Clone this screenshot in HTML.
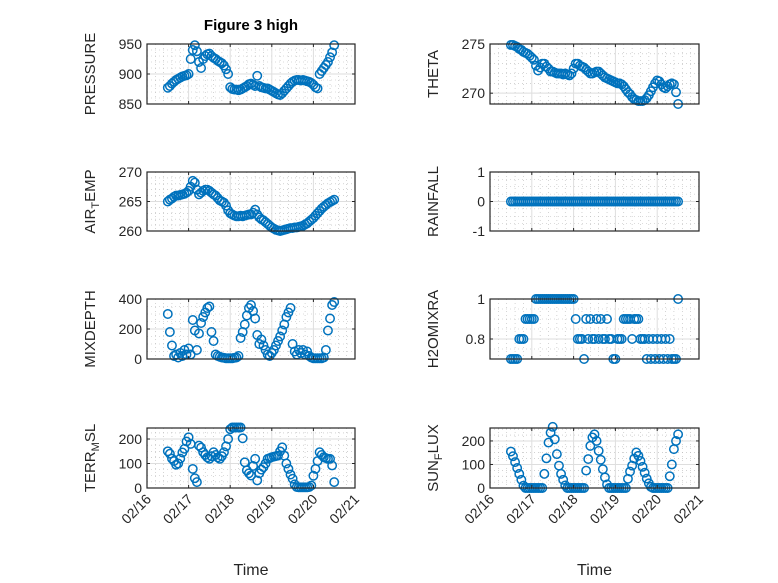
<!DOCTYPE html>
<html><head><meta charset="utf-8"><style>
body{margin:0;background:#fff;}
svg{display:block;font-family:"Liberation Sans",sans-serif;}
</style></head><body>
<svg id="fig" width="778" height="583" viewBox="0 0 778 583">
<rect width="778" height="583" fill="#fff"/>
<text x="251" y="30" text-anchor="middle" font-size="15" font-weight="bold" fill="#000">Figure 3 high</text>
</svg>
<script>
const times = [];
for (let i = 0; i <= 80; i++) times.push(16.5 + 0.05 * i);
const xTicks = [16, 17, 18, 19, 20, 21];
const xTickLabels = ["02/16", "02/17", "02/18", "02/19", "02/20", "02/21"];

const pressure = [877,880,884,887,890,892,894,896,897,898,
900,925,940,948,938,920,910,925,930,933,
934,930,927,925,922,920,918,914,908,900,
878,875,874,874,873,874,876,878,880,883,
884,882,880,897,880,878,877,876,876,874,
872,870,868,866,865,868,872,876,880,884,
887,889,890,890,889,890,889,888,887,885,
882,878,876,900,905,910,915,920,928,936,948];
const theta = [274.9,274.9,274.8,274.7,274.5,274.4,274.2,274.1,274.0,273.8,
273.6,273.4,272.8,272.3,272.6,273.0,273.0,272.7,272.5,272.2,
272.2,272.1,272.0,272.0,272.0,271.9,272.0,271.9,271.8,272.0,
272.5,273.0,273.0,272.8,272.7,272.6,272.4,272.2,272.0,272.0,
272.1,272.2,272.2,272.0,271.8,271.6,271.5,271.4,271.3,271.2,
271.1,271.0,271.0,270.9,270.7,270.4,270.1,269.9,269.6,269.4,
269.3,269.2,269.2,269.2,269.3,269.5,269.8,270.2,270.6,271.0,
271.3,271.2,270.9,270.6,270.5,270.7,270.9,271.0,270.9,270.1,268.9];
const airTemp = [265.0,265.3,265.5,265.8,266.0,266.0,266.1,266.2,266.3,266.5,
266.8,267.5,268.5,268.2,267.0,266.2,266.5,266.8,267.0,267.0,
266.8,266.5,266.2,266.0,265.6,265.2,265.0,264.8,264.3,263.5,
263.0,262.8,262.6,262.5,262.5,262.6,262.5,262.6,262.7,262.8,
262.8,263.1,263.6,262.8,262.3,262.0,261.8,261.5,261.2,260.9,
260.6,260.4,260.2,260.1,260.0,260.1,260.2,260.3,260.4,260.5,
260.5,260.6,260.6,260.7,260.8,260.9,261.1,261.3,261.6,261.9,
262.2,262.6,263.0,263.4,263.8,264.1,264.4,264.7,264.9,265.1,265.3];
const rainfall = [0,0,0,0,0,0,0,0,0,0, 0,0,0,0,0,0,0,0,0,0, 0,0,0,0,0,0,0,0,0,0, 0,0,0,0,0,0,0,0,0,0,
0,0,0,0,0,0,0,0,0,0, 0,0,0,0,0,0,0,0,0,0, 0,0,0,0,0,0,0,0,0,0, 0,0,0,0,0,0,0,0,0,0, 0];
const mixDepth = [300,180,90,20,30,10,40,20,60,30,
70,30,260,190,60,170,240,280,310,340,
350,180,120,30,20,15,10,8,5,5,
5,5,8,10,20,140,180,230,290,340,
360,320,270,160,100,130,90,60,30,20,
40,60,90,120,150,190,230,280,310,340,
100,50,30,60,40,60,30,50,20,10,
5,5,5,5,5,10,60,190,270,360,380];
const h2oMix = [0.7,0.7,0.7,0.7,0.8,0.8,0.8,0.9,0.9,0.9,
0.9,0.9,1,1,1,1,1,1,1,1,
1,1,1,1,1,1,1,1,1,1,
1,0.9,0.8,0.8,0.8,0.7,0.9,0.8,0.9,0.8,
0.8,0.9,0.8,0.9,0.8,0.8,0.9,0.8,0.8,0.7,
0.7,0.8,0.8,0.8,0.9,0.9,0.9,0.9,0.8,0.9,
0.9,0.9,0.8,0.8,0.8,0.7,0.8,0.7,0.8,0.7,
0.8,0.7,0.8,0.7,0.8,0.7,0.8,0.7,0.7,0.7,1.0];
const terrMsl = [150,140,120,110,95,100,120,145,160,190,
207,180,78,40,24,173,165,146,135,125,
119,130,146,135,125,119,130,146,170,200,
240,247,247,247,247,247,203,105,72,60,
51,90,119,31,60,75,85,100,119,122,
126,128,130,132,150,166,132,100,78,55,
38,15,4,3,3,3,3,3,4,10,
50,78,110,146,135,126,122,119,119,92,24];
const sunFlux = [155,135,110,85,60,35,10,0,0,0,
0,0,0,0,0,0,60,126,193,235,
260,207,144,95,60,35,11,0,0,0,
0,0,0,0,0,0,74,123,179,215,
228,200,158,120,80,45,15,0,0,0,
0,0,0,0,0,0,39,70,95,125,
151,137,115,90,65,40,20,5,0,0,
0,0,0,0,0,0,50,100,165,200,228];

const pressureTicks = [850, 900, 950];
const thetaTicks = [270, 275];
const airTicks = [260, 265, 270];
const rainTicks = [-1, 0, 1];
const mixTicks = [0, 200, 400];
const h2oTicks = [0.8, 1];
const terrTicks = [0, 100, 200];
const sunTicks = [0, 100, 200];

const NS = "http://www.w3.org/2000/svg";
const svg = document.getElementById('fig');
function mk(tag, attrs, parent) {
  const e = document.createElementNS(NS, tag);
  for (const k in attrs) e.setAttribute(k, attrs[k]);
  (parent || svg).appendChild(e);
  return e;
}
const L = [147, 355], R = [490, 699];
const rows = [[44, 104], [172, 231], [299, 359], [428, 488]];
const panels = [
  {id:'pressure', col:L, row:0, y:pressure, ylim:[850,950], ticks:pressureTicks, minor:10, label:['PRESSURE']},
  {id:'theta', col:R, row:0, y:theta, ylim:[268.9,275], ticks:thetaTicks, minor:1, label:['THETA']},
  {id:'air-temp', col:L, row:1, y:airTemp, ylim:[260,270], ticks:airTicks, minor:1, label:['AIR','T','EMP']},
  {id:'rainfall', col:R, row:1, y:rainfall, ylim:[-1,1], ticks:rainTicks, minor:0.25, label:['RAINFALL']},
  {id:'mixdepth', col:L, row:2, y:mixDepth, ylim:[0,400], ticks:mixTicks, minor:50, label:['MIXDEPTH']},
  {id:'h2omixra', col:R, row:2, y:h2oMix, ylim:[0.7,1], ticks:h2oTicks, minor:0.05, label:['H2OMIXRA']},
  {id:'terr-msl', col:L, row:3, y:terrMsl, ylim:[0,245], ticks:terrTicks, minor:25, label:['TERR','M','SL']},
  {id:'sun-flux', col:R, row:3, y:sunFlux, ylim:[0,255], ticks:sunTicks, minor:25, label:['SUN','F','LUX']}
];
panels.forEach(p => {
  const x0 = p.col[0], x1 = p.col[1], y0 = rows[p.row][0], y1 = rows[p.row][1];
  const g = mk('g', {});
  
  
  const sx = t => x0 + (t - 16) / 5 * (x1 - x0);
  const sy = v => y1 - (v - p.ylim[0]) / (p.ylim[1] - p.ylim[0]) * (y1 - y0);
  for (let t = 16.2; t < 21; t += 0.2) {
    if (Math.abs(t - Math.round(t)) < 0.01) continue;
    mk('line', {x1:sx(t), x2:sx(t), y1:y0, y2:y1, stroke:'#b8b8b8', 'stroke-width':0.6, 'stroke-dasharray':'1 3'}, g);
  }
  const start = Math.ceil(p.ylim[0] / p.minor - 1e-6) * p.minor;
  for (let v = start; v < p.ylim[1] + 1e-9; v += p.minor) {
    mk('line', {x1:x0, x2:x1, y1:sy(v), y2:sy(v), stroke:'#b8b8b8', 'stroke-width':0.6, 'stroke-dasharray':'1 3'}, g);
  }
  xTicks.forEach(t => mk('line', {x1:sx(t), x2:sx(t), y1:y0, y2:y1, stroke:'#dedede', 'stroke-width':1}, g));
  p.ticks.forEach(v => mk('line', {x1:x0, x2:x1, y1:sy(v), y2:sy(v), stroke:'#dedede', 'stroke-width':1}, g));
  const dg = mk('g', {}, g);
  
  
  times.forEach((t, i) => {
    const c = mk('circle', {cx:sx(t), cy:sy(p.y[i]), r:4.2, fill:'none', stroke:'#0072BD', 'stroke-width':1.5}, dg);
    
    
  });
  mk('rect', {x:x0, y:y0, width:x1-x0, height:y1-y0, fill:'none', stroke:'#262626', 'stroke-width':1.2}, g);
  xTicks.forEach(t => {
    mk('line', {x1:sx(t), x2:sx(t), y1:y1, y2:y1-3, stroke:'#262626'}, g);
    mk('line', {x1:sx(t), x2:sx(t), y1:y0, y2:y0+3, stroke:'#262626'}, g);
  });
  p.ticks.forEach(v => {
    mk('line', {x1:x0, x2:x0+3, y1:sy(v), y2:sy(v), stroke:'#262626'}, g);
    mk('line', {x1:x1, x2:x1-3, y1:sy(v), y2:sy(v), stroke:'#262626'}, g);
    const tl = mk('text', {x:x0-5, y:sy(v)+5, 'text-anchor':'end', 'font-size':14, fill:'#262626'}, g);
    tl.textContent = String(v);
    
    
  });
  const lx = x0 - 52, ly = (y0 + y1) / 2;
  const yl = mk('text', {x:lx, y:ly, 'text-anchor':'middle', 'font-size':15, fill:'#262626', transform:'rotate(-90 '+lx+' '+ly+')'}, g);
  
  
  if (p.label.length === 1) yl.textContent = p.label[0];
  else {
    const a = mk('tspan', {}, yl); a.textContent = p.label[0];
    const b = mk('tspan', {'font-size':11, dy:4}, yl); b.textContent = p.label[1];
    const c = mk('tspan', {dy:-4}, yl); c.textContent = p.label[2];
  }
  if (p.row === 3) {
    xTicks.forEach((t, i) => {
      const tx = sx(t) + 5, ty = y1 + 12;
      const xl = mk('text', {x:tx, y:ty, 'text-anchor':'end', 'font-size':14, fill:'#262626', transform:'rotate(-45 '+tx+' '+ty+')'}, g);
      xl.textContent = xTickLabels[i];
      
      
    });
    const xt = mk('text', {x:(x0+x1)/2, y:575, 'text-anchor':'middle', 'font-size':16, fill:'#262626'}, g);
    xt.textContent = 'Time';
    
    
  }
});
</script>
</body></html>
